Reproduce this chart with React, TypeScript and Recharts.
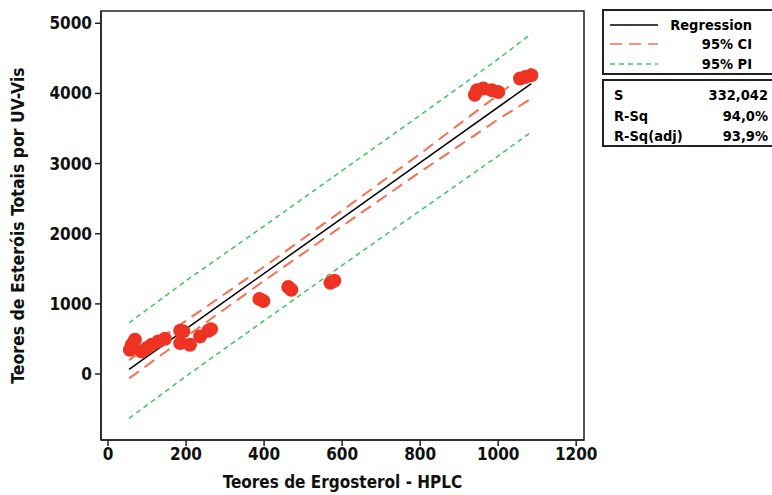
import {
  ComposedChart,
  Scatter,
  Line,
  XAxis,
  YAxis,
  ReferenceArea,
} from 'recharts';

const xTicks = [0, 200, 400, 600, 800, 1000, 1200];
const yTicks = [0, 1000, 2000, 3000, 4000, 5000];

// measured points (HPLC vs UV-Vis)
const pointsX = [
  56, 61, 69, 86, 99, 112, 129, 146, 185, 193, 185, 210, 236, 257, 264,
  388, 398, 462, 470, 570, 580,
  940, 946, 962, 984, 1000, 1056, 1070, 1085,
];
const pointsY = [
  346, 417, 489, 323, 370, 417, 465, 503, 617, 608, 441, 417, 537, 617, 640,
  1070, 1040, 1240, 1200, 1300, 1330,
  3980, 4046, 4070, 4046, 4021, 4212, 4235, 4260,
];

const fitX = [54, 300, 600, 800, 1085];
const fitY = [66, 1040, 2223, 3013, 4140];

const bandX = [54, 200, 400, 600, 800, 1000, 1085];
const ciUpper = [199, 760, 1530, 2330, 3140, 3980, 4354];
const ciLower = [-62, 530, 1330, 2110, 2880, 3630, 3927];
const piUpper = [731, 1330, 2110, 2900, 3690, 4490, 4853];
const piLower = [-631, -30, 760, 1550, 2330, 3110, 3452];

const points = pointsX.map((x, i) => ({ x, y: pointsY[i] }));
const fit = fitX.map((x, i) => ({ x, y: fitY[i] }));
const band = (ys: number[]) => bandX.map((x, i) => ({ x, y: ys[i] }));

const font = "'DejaVu Sans Condensed', 'DejaVu Sans', sans-serif";
const red = '#ee3322';
const ciColor = '#f4714f';
const piColor = '#3cc65a';

const tickStyle = { fill: '#111', fontSize: 17, fontWeight: 700, fontFamily: font };

// legend + stats boxes run past the right edge, as in the original
const Legend = () => (
  <svg
    width={200}
    height={140}
    style={{ position: 'absolute', left: 602, top: 9 }}
    fontFamily={font}
    fontWeight={700}
    fontSize={14.5}
  >
    <rect x={1} y={1} width={196} height={64} fill='#fff' stroke='#222' strokeWidth={2} />
    <line x1={8} x2={56} y1={16} y2={16} stroke='#000' strokeWidth={1.5} />
    <text x={150} y={21} textAnchor='end'>Regression</text>
    <line x1={8} x2={56} y1={35} y2={35} stroke={ciColor} strokeWidth={1.5} strokeDasharray='12 7' />
    <text x={150} y={40} textAnchor='end'>95% CI</text>
    <line x1={8} x2={56} y1={55} y2={55} stroke={piColor} strokeWidth={1.5} strokeDasharray='5 4' />
    <text x={150} y={60} textAnchor='end'>95% PI</text>

    <rect x={1} y={71} width={196} height={66} fill='#fff' stroke='#222' strokeWidth={2} />
    <text x={12} y={91}>S</text>
    <text x={166} y={91} textAnchor='end'>332,042</text>
    <text x={12} y={112}>R-Sq</text>
    <text x={166} y={112} textAnchor='end'>94,0%</text>
    <text x={12} y={132}>R-Sq(adj)</text>
    <text x={166} y={132} textAnchor='end'>93,9%</text>
  </svg>
);

export default function App() {
  return (
    <div
      style={{
        position: 'absolute',
        left: 0,
        top: 0,
        width: 772,
        height: 495,
        overflow: 'hidden',
        background: '#fff',
      }}
    >
      <ComposedChart
        width={772}
        height={495}
        margin={{ top: 11, right: 188, bottom: 0, left: 0 }}
      >
        <XAxis
          dataKey='x'
          type='number'
          domain={[-18, 1220]}
          ticks={xTicks}
          allowDataOverflow
          height={55}
          tick={tickStyle}
          tickSize={6}
          tickMargin={2}
          stroke='#222'
          strokeWidth={1.5}
          label={{
            value: 'Teores de Ergosterol - HPLC',
            position: 'insideBottom',
            offset: 7,
            style: { fill: '#111', fontSize: 17, fontWeight: 700, fontFamily: font },
          }}
        />
        <YAxis
          dataKey='y'
          type='number'
          domain={[-940, 5175]}
          ticks={yTicks}
          allowDataOverflow
          width={101}
          tick={tickStyle}
          tickSize={6}
          tickMargin={3}
          stroke='#222'
          strokeWidth={1.5}
          label={{
            value: 'Teores de Esteróis Totais por UV-Vis',
            angle: -90,
            position: 'insideLeft',
            offset: 18,
            style: { textAnchor: 'middle', fill: '#111', fontSize: 17.5, fontWeight: 700, fontFamily: font },
          }}
        />
        <ReferenceArea x1={-18} x2={1220} y1={-940} y2={5175} fill='none' stroke='#222' strokeWidth={1.5} />
        <Line data={band(piUpper)} dataKey='y' type='linear' stroke={piColor} strokeWidth={1.5} strokeDasharray='5 4' dot={false} isAnimationActive={false} />
        <Line data={band(piLower)} dataKey='y' type='linear' stroke={piColor} strokeWidth={1.5} strokeDasharray='5 4' dot={false} isAnimationActive={false} />
        <Line data={band(ciUpper)} dataKey='y' type='linear' stroke={ciColor} strokeWidth={2} strokeDasharray='12 7' dot={false} isAnimationActive={false} />
        <Line data={band(ciLower)} dataKey='y' type='linear' stroke={ciColor} strokeWidth={2} strokeDasharray='12 7' dot={false} isAnimationActive={false} />
        <Scatter
          data={points}
          fill={red}
          isAnimationActive={false}
          shape={(p: any) => <circle cx={p.cx} cy={p.cy} r={7} fill={red} />}
        />
        <Line data={fit} dataKey='y' type='linear' stroke='#000' strokeWidth={1.5} dot={false} isAnimationActive={false} />
      </ComposedChart>
      <Legend />
    </div>
  );
}
